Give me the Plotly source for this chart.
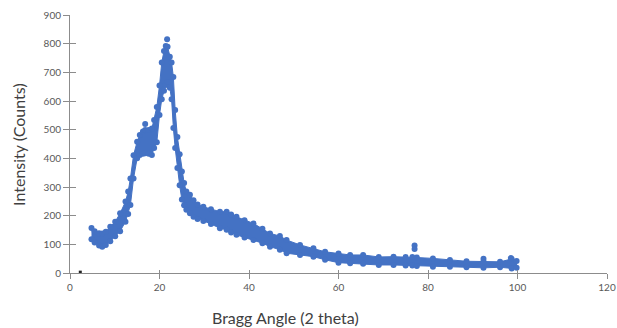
import plotly.graph_objects as go

# Bragg angle samples along the scatter band (2 theta, degrees)
two_theta = [4.8, 5.5, 6.5, 7.2, 8.0, 9.0, 10.1, 11.2, 12.4, 13.0, 13.5, 14.2, 15.0, 15.6,
             16.3, 16.8, 17.6, 18.3, 18.8, 19.4, 20.0, 20.5, 21.0, 21.4, 21.8, 22.3, 22.7,
             23.1, 23.5, 24.0, 24.5, 25.0, 25.5, 26.0, 26.8, 27.6, 28.5, 29.8, 31.5, 33.5,
             35.0, 36.0, 37.2, 39.0, 41.0, 43.0, 44.7, 46.9, 48.4, 51.4, 54.4, 57.0, 60.0,
             62.6, 65.5, 69.0, 72.3, 75.0, 76.5, 77.5, 81.1, 84.9, 88.6, 92.4, 96.1, 98.7, 99.8]
# upper edge of the scattered counts
upper = [157, 146, 139, 138, 144, 161, 179, 208, 249, 284, 330, 411, 458, 481,
         494, 499, 499, 504, 534, 579, 654, 734, 774, 792, 789, 754, 734,
         684, 569, 474, 414, 354, 314, 284, 273, 254, 239, 231, 222, 214,
         214, 204, 196, 184, 173, 154, 138, 129, 115, 98, 86, 74, 68,
         63, 63, 56, 57, 56, 56, 54, 51, 45, 41, 40, 39, 49, 42]
# lower edge of the scattered counts
lower = [118, 106, 96, 92, 98, 111, 128, 146, 179, 206, 237, 330, 400, 412,
         416, 418, 416, 412, 436, 456, 551, 606, 636, 656, 666, 646, 606,
         506, 436, 366, 306, 256, 236, 221, 208, 196, 188, 181, 171, 156,
         151, 141, 133, 124, 115, 104, 92, 81, 69, 63, 57, 46, 36,
         34, 32, 28, 28, 26, 26, 24, 22, 22, 20, 18, 20, 16, 18]
# isolated points sticking out of the band
spike_theta = [16.8, 21.7, 77.0, 77.0, 92.4, 98.5]
spike_counts = [520, 815, 96, 84, 50, 52]
stray_theta = [2.3]
stray_counts = [3]

x_ticks = [0, 20, 40, 60, 80, 100, 120]
y_ticks = [0, 100, 200, 300, 400, 500, 600, 700, 800, 900]

BLUE = "#4472C4"
GREY = "#8C8C8C"
TXT = "#595959"
FONT = "Lato"

fig = go.Figure()
fig.add_trace(go.Scatter(
    x=two_theta + two_theta[::-1], y=upper + lower[::-1],
    mode="lines", fill="toself", fillcolor=BLUE,
    line=dict(color=BLUE, width=1), hoverinfo="skip", showlegend=False))
for ys in (upper, lower):
    fig.add_trace(go.Scatter(x=two_theta, y=ys, mode="markers",
                             marker=dict(color=BLUE, size=6, symbol="circle",
                                         line=dict(width=0)),
                             showlegend=False))
fig.add_trace(go.Scatter(x=spike_theta, y=spike_counts, mode="markers",
                         marker=dict(color=BLUE, size=6, line=dict(width=0)),
                         showlegend=False))
fig.add_trace(go.Scatter(x=stray_theta, y=stray_counts, mode="markers",
                         marker=dict(color="#222222", size=3, symbol="square",
                                     line=dict(width=0)),
                         showlegend=False))
# invisible trace to carry the overlay axes (inside half of cross ticks)
fig.add_trace(go.Scatter(x=[x_ticks[0]], y=[y_ticks[0]], xaxis="x2", yaxis="y2",
                         mode="markers", marker=dict(opacity=0), showlegend=False,
                         hoverinfo="skip"))

common = dict(showgrid=False, zeroline=False, automargin=False)
fig.update_layout(
    width=617, height=328,
    margin=dict(l=70, r=10, t=15, b=55, autoexpand=False),
    paper_bgcolor="white", plot_bgcolor="white",
    font=dict(family=FONT, color=TXT),
    xaxis=dict(range=[0, 120], tickvals=x_ticks, ticks="outside", ticklen=5,
               tickcolor=GREY, showline=True, linecolor=GREY, linewidth=1,
               tickfont=dict(size=10, color=TXT), **common),
    yaxis=dict(range=[0, 900], tickvals=y_ticks, ticks="outside", ticklen=6,
               tickcolor=GREY, showline=True, linecolor=GREY, linewidth=1,
               tickfont=dict(size=10, color=TXT), **common),
    xaxis2=dict(range=[0, 120], tickvals=x_ticks, ticks="inside", ticklen=3,
                tickcolor=GREY, overlaying="x", side="bottom", showline=False,
                showticklabels=False, **common),
    yaxis2=dict(range=[0, 900], tickvals=y_ticks, ticks="inside", ticklen=6,
                tickcolor=GREY, overlaying="y", side="left", showline=False,
                showticklabels=False, **common),
    annotations=[
        dict(text="Bragg Angle (2 theta)", xref="paper", yref="paper",
             x=0.402, y=-0.174, xanchor="center", yanchor="middle",
             showarrow=False, font=dict(size=16, color="#404040", family=FONT)),
        dict(text="Intensity (Counts)", xref="paper", yref="paper",
             x=-0.097, y=0.5, xanchor="center", yanchor="middle", textangle=-90,
             showarrow=False, font=dict(size=16, color="#404040", family=FONT)),
    ],
)

fig.write_html("out.html")
